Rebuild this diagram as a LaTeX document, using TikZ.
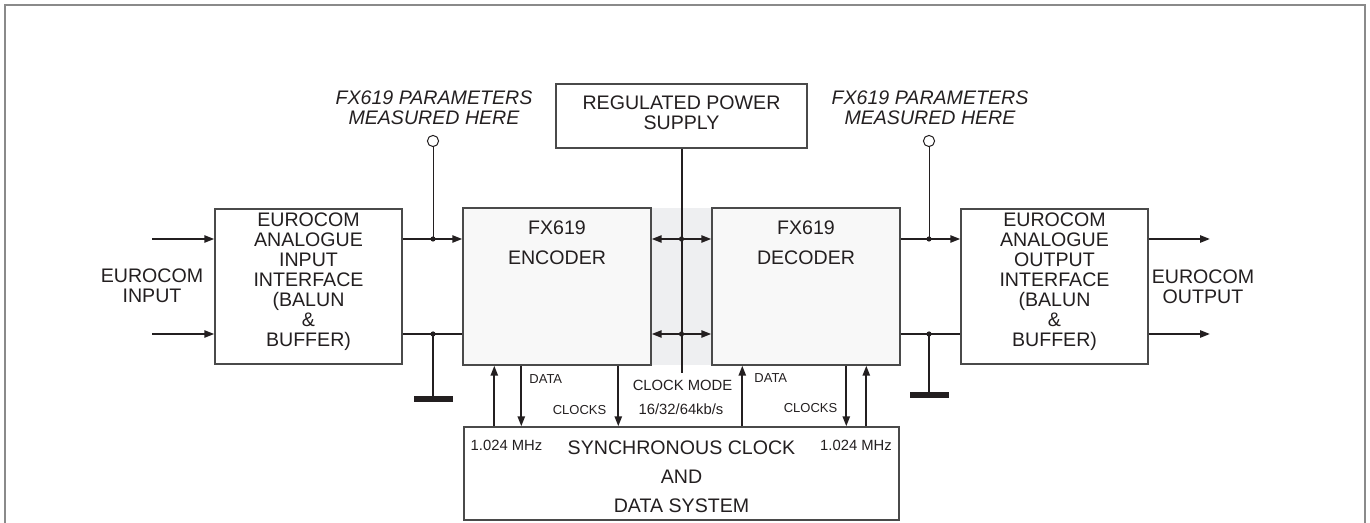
\documentclass[tikz,border=0pt]{standalone}
\usepackage{fontspec}
\setmainfont{Liberation Sans}
\usetikzlibrary{arrows.meta, positioning, shapes, shapes.geometric}
\definecolor{InkBlack}{HTML}{231F20}
\definecolor{EdgeGrey}{HTML}{4A4A4A}
\definecolor{FrameGrey}{HTML}{8A8A8A}
\definecolor{ChipFill}{HTML}{F8F8F8}
\definecolor{BusShade}{HTML}{EEEFF1}
\colorlet{SignalLine}{InkBlack}
\colorlet{BlockEdge}{EdgeGrey}

\begin{document}
\begin{tikzpicture}[
        x=0.5pt, y=-0.5pt,
        every node/.style={text=InkBlack, font=\fontsize{9.8}{10}\selectfont},
        blockbox/.style={rectangle, draw=BlockEdge, line width=0.7pt, fill=white, inner sep=0pt},
        chipbox/.style={blockbox, fill=ChipFill},
        sig/.style={SignalLine, line width=1pt},
        sigarrow/.style={sig, -{Triangle[length=5pt, width=3.6pt]}},
        meas/.style={SignalLine, line width=0.5pt},
        probe/.style={circle, draw=SignalLine, line width=0.5pt, fill=white, minimum size=5.6pt, inner sep=0pt},
        dot/.style={circle, fill=SignalLine, minimum size=2.6pt, inner sep=0pt},
        gnd/.style={rectangle, fill=SignalLine, minimum width=19.5pt, minimum height=3pt, inner sep=0pt},
        smalltxt/.style={font=\fontsize{6.5}{7}\selectfont},
        midtxt/.style={font=\fontsize{7.4}{8}\selectfont}
    ]
    \useasboundingbox (0,0) rectangle (1370,523);

    % Frame
    \draw[FrameGrey, line width=0.75pt] (5,560) -- (5,5) -- (1365,5) -- (1365,560);

    % Shaded bus between the codecs
    \fill[BusShade] (651,208) rectangle (712,365);

    % Blocks
    \node[blockbox, minimum width=93.5pt, minimum height=77.5pt] (inbox) at (308.5,286.5) {};
    \node[chipbox, minimum width=94pt, minimum height=78.5pt] (enc) at (557,286.5) {};
    \node[chipbox, minimum width=94pt, minimum height=78.5pt] (dec) at (806,286.5) {};
    \node[blockbox, minimum width=93.5pt, minimum height=77.5pt] (outbox) at (1054.5,286.5) {};
    \node[blockbox, minimum width=125.5pt, minimum height=32pt] (psu) at (681.5,116) {};
    \node[blockbox, minimum width=217.5pt, minimum height=46.5pt] (clk) at (681.5,473.5) {};

    % Block texts
    \node[align=center] (inboxtxt) at (308.5,282) {EUROCOM\\ANALOGUE\\INPUT\\INTERFACE\\(BALUN\\\&\\BUFFER)};
    \node[align=center] (outboxtxt) at (1054.5,282) {EUROCOM\\ANALOGUE\\OUTPUT\\INTERFACE\\(BALUN\\\&\\BUFFER)};
    \node[align=center, font=\fontsize{9.8}{15}\selectfont] (enctxt) at (557,243) {FX619\\ENCODER};
    \node[align=center, font=\fontsize{9.8}{15}\selectfont] (dectxt) at (806,243) {FX619\\DECODER};
    \node[align=center] (psutxt) at (681.5,113) {REGULATED POWER\\SUPPLY};
    \node[align=center, font=\fontsize{9.8}{14.5}\selectfont] (clktxt) at (681.5,477) {SYNCHRONOUS CLOCK\\AND\\DATA SYSTEM};
    \node[align=center] (intxt) at (152,286) {EUROCOM\\INPUT};
    \node[align=center] (outtxt) at (1203,287) {EUROCOM\\OUTPUT};

    % Junctions
    \coordinate (jA) at (433,239);
    \coordinate (jB) at (433,334);
    \coordinate (jC) at (929,239);
    \coordinate (jD) at (929,334);
    \coordinate (pA) at (681.5,239);
    \coordinate (pB) at (681.5,334);
    \coordinate (pEnd) at (681.5,373);
    \coordinate (inA) at (152,239);
    \coordinate (inB) at (152,334);
    \coordinate (outA) at (1210,239);
    \coordinate (outB) at (1210,334);

    % Input and output lines
    \draw[sigarrow] (inA) -- (inbox.west |- inA);
    \draw[sigarrow] (inB) -- (inbox.west |- inB);
    \draw[sigarrow] (outbox.east |- outA) -- (outA);
    \draw[sigarrow] (outbox.east |- outB) -- (outB);

    % Links between blocks
    \draw[sigarrow] (inbox.east |- jA) -- (enc.west |- jA);
    \draw[sig] (inbox.east |- jB) -- (enc.west |- jB);
    \draw[sigarrow] (dec.east |- jC) -- (outbox.west |- jC);
    \draw[sig] (dec.east |- jD) -- (outbox.west |- jD);

    % Grounds
    \node[gnd] (gndL) at (433,399.5) {};
    \node[gnd] (gndR) at (929,395) {};
    \draw[sig] (jB) -- (gndL.north);
    \draw[sig] (jD) -- (gndR.north);

    % Measuring points
    \node[probe] (mpL) at (433,141) {};
    \node[probe] (mpR) at (929,141) {};
    \draw[meas] (mpL) -- (jA);
    \draw[meas] (mpR) -- (jC);
    \node[align=center, font=\fontsize{9.8}{10}\itshape] (parL) at (434,108) {FX619 PARAMETERS\\MEASURED HERE};
    \node[align=center, font=\fontsize{9.8}{10}\itshape] (parR) at (930,108) {FX619 PARAMETERS\\MEASURED HERE};

    % Power supply
    \draw[sig] (psu.south) -- (pEnd);
    \draw[sig, {Triangle[length=5pt, width=3.6pt]}-{Triangle[length=5pt, width=3.6pt]}] (enc.east |- pA) -- (dec.west |- pA);
    \draw[sig, {Triangle[length=5pt, width=3.6pt]}-{Triangle[length=5pt, width=3.6pt]}] (enc.east |- pB) -- (dec.west |- pB);

    % Clock and data links
    \draw[sigarrow] ([xshift=15.5pt]clk.north west) -- ([xshift=15.5pt]clk.north west |- enc.south);
    \draw[sigarrow] ([xshift=29pt]clk.north west |- enc.south) -- ([xshift=29pt]clk.north west);
    \draw[sigarrow] ([xshift=77.5pt]clk.north west |- enc.south) -- ([xshift=77.5pt]clk.north west);
    \draw[sigarrow] ([xshift=139.5pt]clk.north west) -- ([xshift=139.5pt]clk.north west |- dec.south);
    \draw[sigarrow] ([xshift=191.5pt]clk.north west |- dec.south) -- ([xshift=191.5pt]clk.north west);
    \draw[sigarrow] ([xshift=201.5pt]clk.north west) -- ([xshift=201.5pt]clk.north west |- dec.south);

    % Dots on the junctions
    \foreach \j in {jA, jB, jC, jD, pA, pB} \node[dot] at (\j) {};

    % Small labels
    \node[smalltxt, anchor=west, inner sep=0pt] (dataL) at (529,379) {DATA};
    \node[smalltxt] (clocksL) at (579.5,410) {CLOCKS};
    \node[smalltxt, anchor=west, inner sep=0pt] (dataR) at (754,378) {DATA};
    \node[smalltxt] (clocksR) at (810.5,408) {CLOCKS};
    \node[midtxt] (modetxt) at (682.5,385) {CLOCK MODE};
    \node[midtxt] (ratetxt) at (681,409) {16/32/64kb/s};
    \node[midtxt] (mhzL) at (506.5,445) {1.024 MHz};
    \node[midtxt] (mhzR) at (856,445) {1.024 MHz};

\end{tikzpicture}
\end{document}
